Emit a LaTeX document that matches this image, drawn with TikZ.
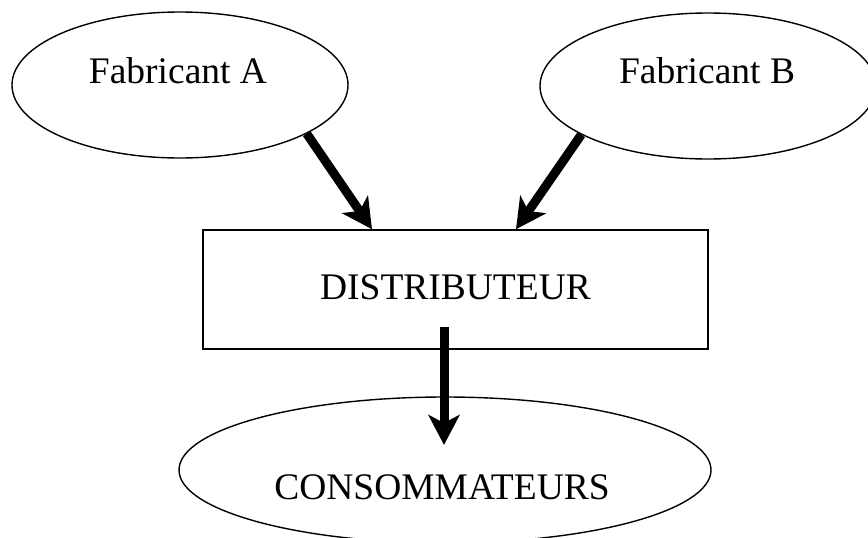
\documentclass[tikz,border=0pt]{standalone}
\usepackage{fontspec}
\setmainfont{Liberation Serif}
\usetikzlibrary{shapes.geometric,arrows.meta}
\tikzset{
  ell/.style={draw, line width=1.4pt, ellipse, inner sep=0pt, minimum width=336pt, minimum height=146pt},
  boxnode/.style={draw, line width=1.5pt, rectangle, inner sep=0pt, minimum width=505pt, minimum height=119pt},
  txt/.style={font=\fontsize{37.5}{41}\selectfont, inner sep=0pt, anchor=base},
  bigarrow/.style={line width=9pt, -{Stealth[length=30pt, width=31pt, inset=8pt]}}
}
\begin{document}
\begin{tikzpicture}[x=1pt, y=-1pt]
\useasboundingbox (0,0) rectangle (868,538);
\clip (0,0) rectangle (868,538);
\fill[white] (0,0) rectangle (868,538);
\node[ell] (A) at (180,85) {};
\node[ell] (B) at (708,86) {};
\node[boxnode] (D) at (455.5,289.5) {};
\node[ell, minimum width=532pt, minimum height=146pt] (C) at (445,470) {};
\node[txt] (tA) at (178,83) {Fabricant A};
\node[txt] (tB) at (707,83) {Fabricant B};
\node[txt] (tD) at (455.5,299) {DISTRIBUTEUR};
\node[txt] (tC) at (442,499) {CONSOMMATEURS};
\draw[bigarrow] (A.-21.5) -- ([xshift=-83.5pt]D.north);
\draw[bigarrow] (B.201.7) -- ([xshift=60.5pt]D.north);
\draw[bigarrow] ([xshift=-11.5pt, yshift=-37.5pt]D.center) -- ([yshift=25pt, xshift=-1pt]C.center);
\end{tikzpicture}
\end{document}
